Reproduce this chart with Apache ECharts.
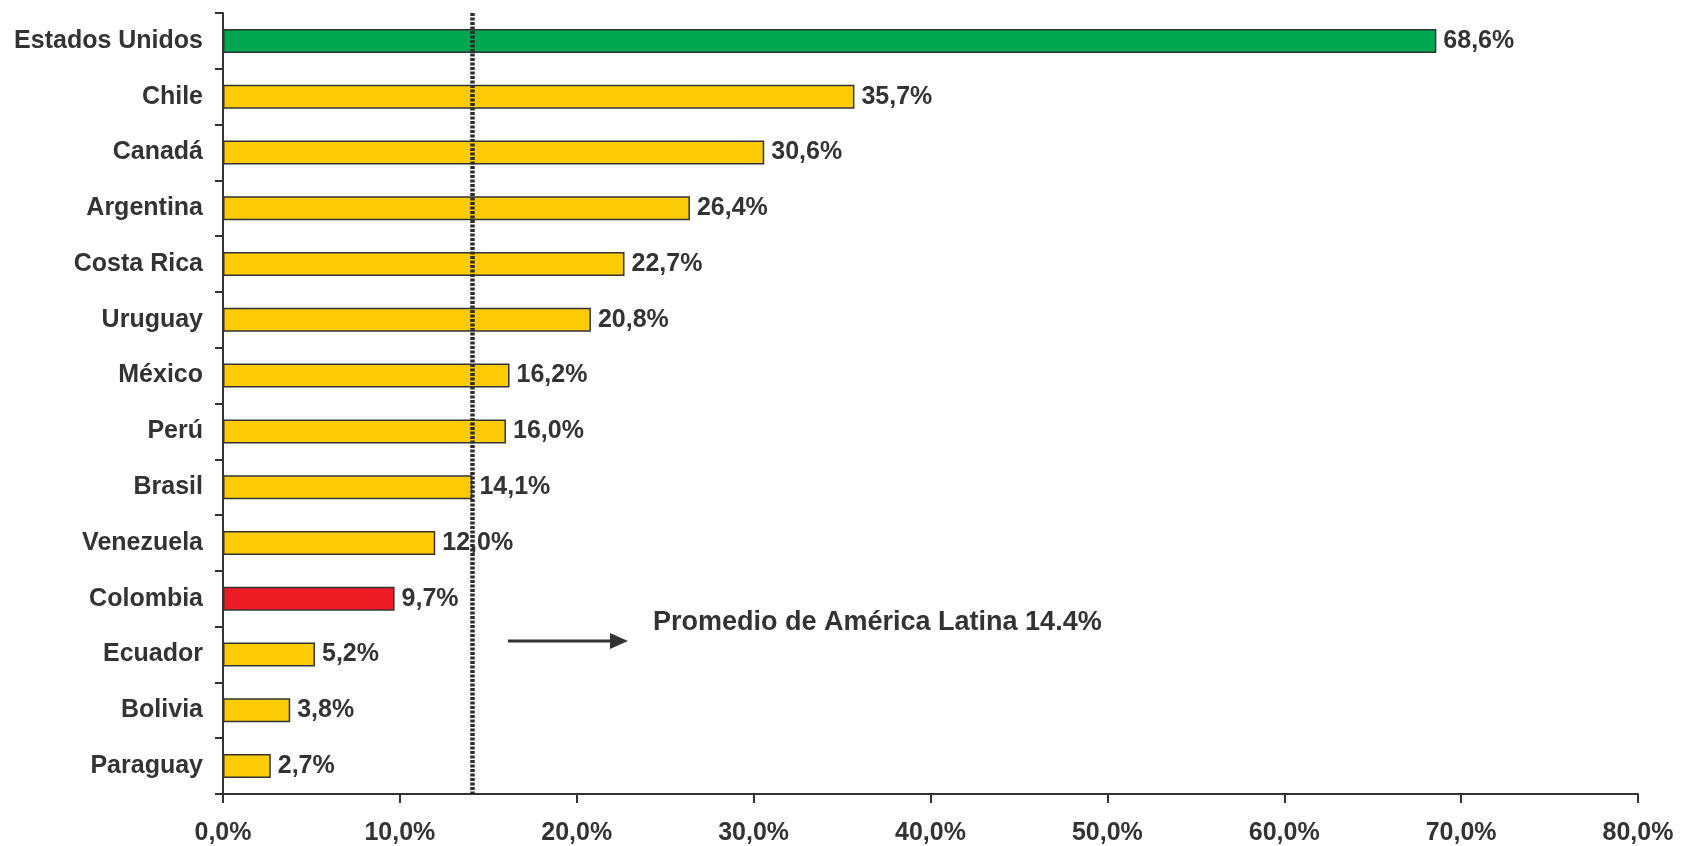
<!DOCTYPE html>
<html>
<head>
<meta charset="utf-8">
<script src="https://cdn.jsdelivr.net/npm/echarts@6/dist/echarts.min.js"></script>
<style>
  html, body { margin: 0; padding: 0; background: #fff; }
  #main { width: 1685px; height: 846px; }
</style>
</head>
<body>
<div id="main"></div>
<script>
var paises = ['Estados Unidos', 'Chile', 'Canadá', 'Argentina', 'Costa Rica', 'Uruguay', 'México',
    'Perú', 'Brasil', 'Venezuela', 'Colombia', 'Ecuador', 'Bolivia', 'Paraguay'];
var valores = [68.6, 35.7, 30.6, 26.4, 22.7, 20.8, 16.2, 16.0, 14.1, 12.0, 9.7, 5.2, 3.8, 2.7];
var colores = {'Estados Unidos': '#00a650', 'Colombia': '#ed1c24'};
var promedioLinea = 14.1;
var promedioTexto = 'Promedio de América Latina 14.4%';
var ejeTicks = [0, 10, 20, 30, 40, 50, 60, 70, 80];

(function () {
    var dom = document.getElementById("main");
    var myChart = echarts.init(dom);
    var texto = '#333333';
    var fuente = 'Liberation Sans, Arial';

    var datos = valores.map(function (v, i) {
        return {
            value: v,
            itemStyle: { color: colores[paises[i]] || '#fdca06' }
        };
    });

    var option = {
        animation: false,
        backgroundColor: '#ffffff',
        grid: { left: 223, right: 47, top: 13, bottom: 52, containLabel: false },
        xAxis: {
            type: 'value',
            min: ejeTicks[0],
            max: ejeTicks[ejeTicks.length - 1],
            interval: 10,
            splitLine: { show: false },
            axisLine: { show: true, lineStyle: { color: texto, width: 2 } },
            axisTick: { show: true, length: 9, lineStyle: { color: texto, width: 2 } },
            axisLabel: {
                color: texto, fontSize: 25, fontWeight: 'bold', fontFamily: fuente,
                margin: 27,
                formatter: function (v) { return v.toFixed(1).replace('.', ',') + '%'; }
            }
        },
        yAxis: {
            type: 'category',
            data: paises,
            inverse: true,
            axisLine: { show: true, lineStyle: { color: texto, width: 2 } },
            axisTick: { show: true, length: 8, lineStyle: { color: texto, width: 2 } },
            axisLabel: {
                color: texto, fontSize: 25, fontWeight: 'bold', fontFamily: fuente,
                margin: 20
            }
        },
        series: [{
            type: 'bar',
            data: datos,
            barWidth: 24,
            itemStyle: { borderColor: '#333333', borderWidth: 1.5 },
            label: {
                show: true,
                position: 'right',
                distance: 7,
                color: texto, fontSize: 25, fontWeight: 'bold', fontFamily: fuente,
                formatter: function (p) { return p.value.toFixed(1).replace('.', ',') + '%'; }
            },
            markLine: {
                silent: true,
                symbol: ['none', 'none'],
                label: { show: false },
                lineStyle: { color: '#2e2e2e', type: [3, 1.5], width: 4.5 },
                data: [{ xAxis: promedioLinea }]
            }
        }],
        graphic: [
            {
                type: 'line',
                shape: { x1: 508, y1: 641, x2: 612, y2: 641 },
                style: { stroke: '#333333', lineWidth: 3 }
            },
            {
                type: 'polygon',
                shape: { points: [[610, 633], [628, 641], [610, 649]] },
                style: { fill: '#333333' }
            },
            {
                type: 'text',
                left: 653,
                top: 609,
                style: {
                    text: promedioTexto,
                    fill: texto,
                    fontSize: 27,
                    fontWeight: 'bold',
                    fontFamily: fuente
                }
            }
        ]
    };
    myChart.setOption(option, true);
})();
</script>
</body>
</html>
